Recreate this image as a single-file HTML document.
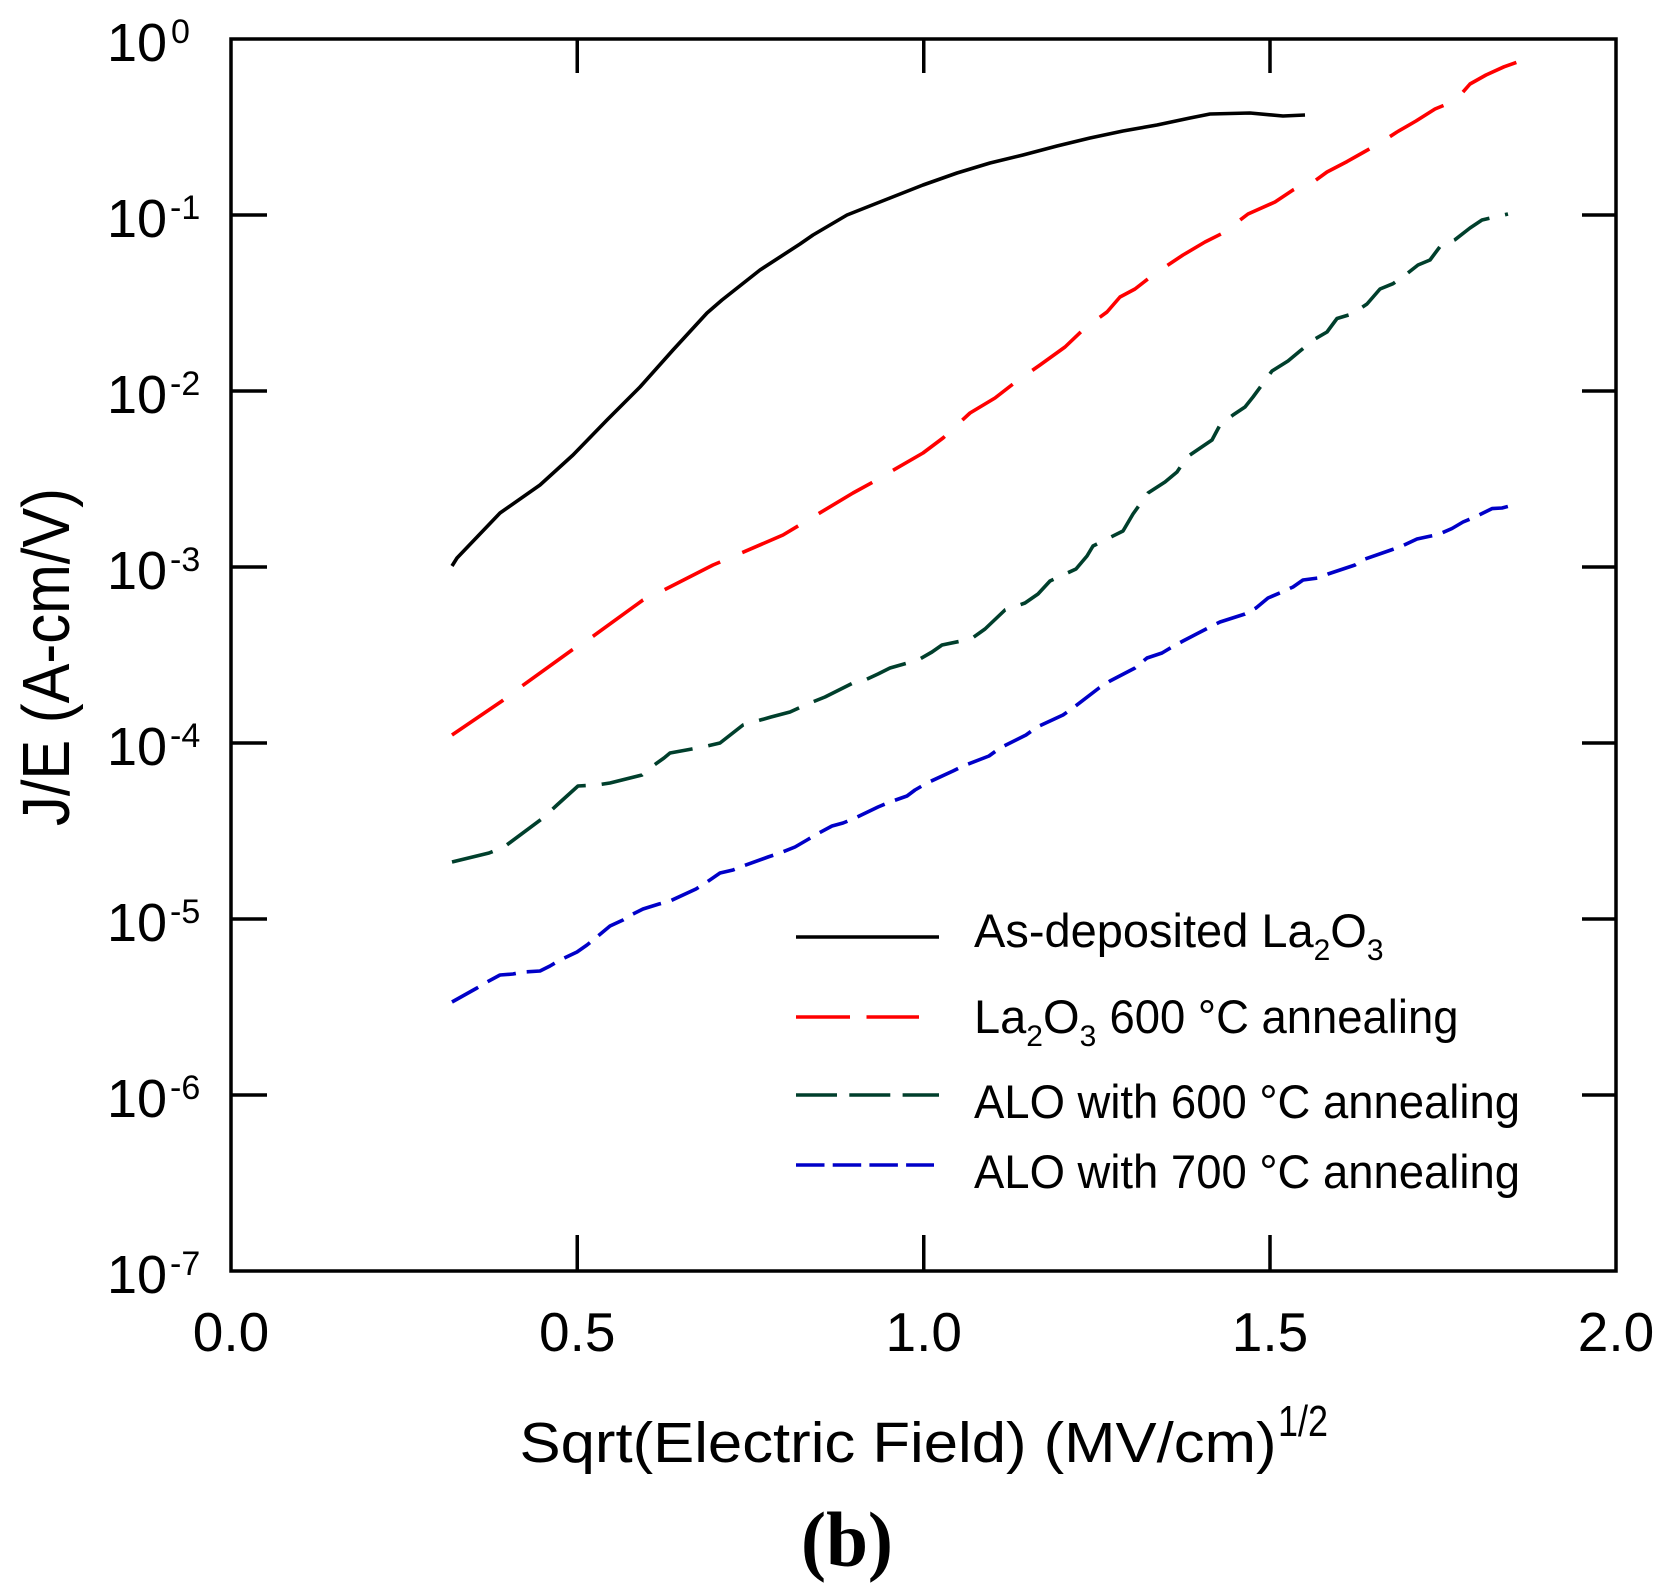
<!DOCTYPE html>
<html>
<head>
<meta charset="utf-8">
<style>
html,body{margin:0;padding:0;background:#fff;}
svg{display:block;}
text{font-family:"Liberation Sans",Arial,sans-serif;fill:#000;}
</style>
</head>
<body>
<svg width="1666" height="1593" viewBox="0 0 1666 1593" xmlns="http://www.w3.org/2000/svg">
<rect x="0" y="0" width="1666" height="1593" fill="#fff"/>

<!-- frame -->
<rect x="231" y="39" width="1385" height="1232" fill="none" stroke="#000" stroke-width="3.5"/>

<!-- ticks -->
<g stroke="#000" stroke-width="3.5" fill="none">
<path d="M231,215H267M231,391H267M231,567H267M231,743H267M231,919H267M231,1095H267"/>
<path d="M1616,215H1582M1616,391H1582M1616,567H1582M1616,743H1582M1616,919H1582M1616,1095H1582"/>
<path d="M577.25,1271V1235M923.75,1271V1235M1270,1271V1235"/>
<path d="M577.25,39V73M923.75,39V73M1270,39V73"/>
</g>

<!-- y tick labels -->
<g font-size="54">
<text x="107" y="61">10</text><text x="171" y="43" font-size="34">0</text>
<text x="107" y="237">10</text><text x="170" y="219" font-size="34">-1</text>
<text x="107" y="413">10</text><text x="170" y="395" font-size="34">-2</text>
<text x="107" y="589">10</text><text x="170" y="571" font-size="34">-3</text>
<text x="107" y="765">10</text><text x="170" y="747" font-size="34">-4</text>
<text x="107" y="941">10</text><text x="170" y="923" font-size="34">-5</text>
<text x="107" y="1117">10</text><text x="170" y="1099" font-size="34">-6</text>
<text x="107" y="1293">10</text><text x="170" y="1275" font-size="34">-7</text>
</g>

<!-- x tick labels -->
<g font-size="55" text-anchor="middle">
<text x="231" y="1351">0.0</text>
<text x="577.25" y="1351">0.5</text>
<text x="923.75" y="1351">1.0</text>
<text x="1270" y="1351">1.5</text>
<text x="1616" y="1351">2.0</text>
</g>

<!-- axis titles -->
<text x="519.5" y="1462" font-size="57" textLength="757" lengthAdjust="spacingAndGlyphs">Sqrt(Electric Field) (MV/cm)</text>
<text x="1278" y="1436" font-size="44" textLength="50" lengthAdjust="spacingAndGlyphs">1/2</text>

<text transform="translate(69,826) rotate(-90)" x="0" y="0" font-size="67" textLength="338" lengthAdjust="spacingAndGlyphs">J/E (A-cm/V)</text>

<text x="847" y="1566" font-size="78" text-anchor="middle" font-weight="bold" style="font-family:'Liberation Serif','Times New Roman',serif" textLength="92" lengthAdjust="spacingAndGlyphs">(b)</text>

<!-- curves -->
<g fill="none" stroke-width="3.6" stroke-linejoin="round">
<polyline stroke="#000" points="452,566 457,558 500,513 540,485 573,455 607,420 640,387 673,350 707,313 722,300 760,270 800,244 813,235 847,215 890,198 923,185 957,173 990,163 1023,155 1057,146 1090,138 1123,131 1157,125 1190,118 1210,114 1250,113 1283,116 1305,115"/>

<polyline stroke="#ff0000" stroke-dasharray="62 24" points="452,735 502,701 522,686 572,650 592,637 643,600 662,591 713,565 732,557 783,535 803,523 853,493 873,482 890,472 923,453 943,438 970,413 995,398 1013,384 1040,365 1065,347 1085,328 1107,312 1120,297 1135,289 1153,275 1183,255 1205,242 1223,233 1248,214 1275,202 1293,190 1300,186.5 1315,180.8 1327,172 1347,161.6 1364,152 1380,143 1397,132 1416,121 1435,109 1452,102 1460,95.5 1470,84 1486,75 1504,66.8 1518,61.8"/>

<polyline stroke="#003f2c" stroke-dasharray="42 16" points="452,862 489,853 504,847 543,818 557,805 578,786 597,785 610,783 642,775 650,768 664,758 670,753 703,747 720,743 743,725 757,721 771,717 790,712 810,703 825,697 853,683 863,681 878,674 890,668 918,660 932,652 942,645 971,639 985,629 1005,610 1025,603 1038,594 1050,581 1076,569 1087,556 1093,546 1123,531 1133,514 1148,493 1165,482 1177,472 1187,457 1212,440 1220,425 1233,415 1245,407 1253,397 1264,382 1272,371 1288,361 1300,351 1315,339 1327,332 1337,318.5 1352,314 1367,304 1380,289 1393,283.7 1404,276 1418,265 1430,260 1440,246.6 1455,239.7 1470,228 1482,220 1508,214"/>

<polyline stroke="#0000c8" stroke-dasharray="30 11" points="452,1002 477,988 487,982 500,975 513,974 523,972 540,971 550,966 560,960 577,952 587,945 598,936 610,926 623,920 633,914 643,909 659,904 670,901 696,889 707,882 720,873 733,870 743,866 768,857 780,853 795,847 807,840 817,834 832,826 843,823 853,819 878,807 890,802 907,796 915,790 927,783 953,771 963,766 989,756 1000,748 1026,735 1037,727 1063,715 1073,708 1099,688 1110,681 1135,668 1147,658 1162,653 1172,647 1183,641 1208,628 1220,622 1245,614 1256,608 1268,598 1282,592 1293,587 1303,580 1318,578 1328,574 1340,570 1355,565 1365,559 1391,550 1402,546 1417,539 1428,536.6 1438,534.6 1452,528.5 1463,522 1475,517 1492,508.6 1502,508 1511,505.6 1518,503"/>
</g>

<!-- legend lines -->
<g fill="none" stroke-width="3.4">
<path stroke="#000" d="M796,937H939"/>
<path stroke="#ff0000" stroke-dasharray="54 16.5" d="M796,1017H919"/>
<path stroke="#003f2c" stroke-dasharray="41 12.3" d="M796,1095H939"/>
<path stroke="#0000c8" stroke-dasharray="28.5 8.2" d="M796,1165H934"/>
</g>

<!-- legend text -->
<g font-size="47">
<text x="974" y="947">As-deposited La</text>
<text x="1313.6" y="960" font-size="30">2</text>
<text x="1330.3" y="947">O</text>
<text x="1366.9" y="960" font-size="30">3</text>

<text x="974" y="1033">La</text>
<text x="1026.3" y="1046" font-size="30">2</text>
<text x="1043" y="1033">O</text>
<text x="1079.6" y="1046" font-size="30">3</text>
<text x="1109.5" y="1033" textLength="349" lengthAdjust="spacingAndGlyphs">600 °C annealing</text>

<text x="974" y="1118" textLength="546" lengthAdjust="spacingAndGlyphs">ALO with 600 °C annealing</text>
<text x="974" y="1188" textLength="546" lengthAdjust="spacingAndGlyphs">ALO with 700 °C annealing</text>
</g>
</svg>
</body>
</html>
